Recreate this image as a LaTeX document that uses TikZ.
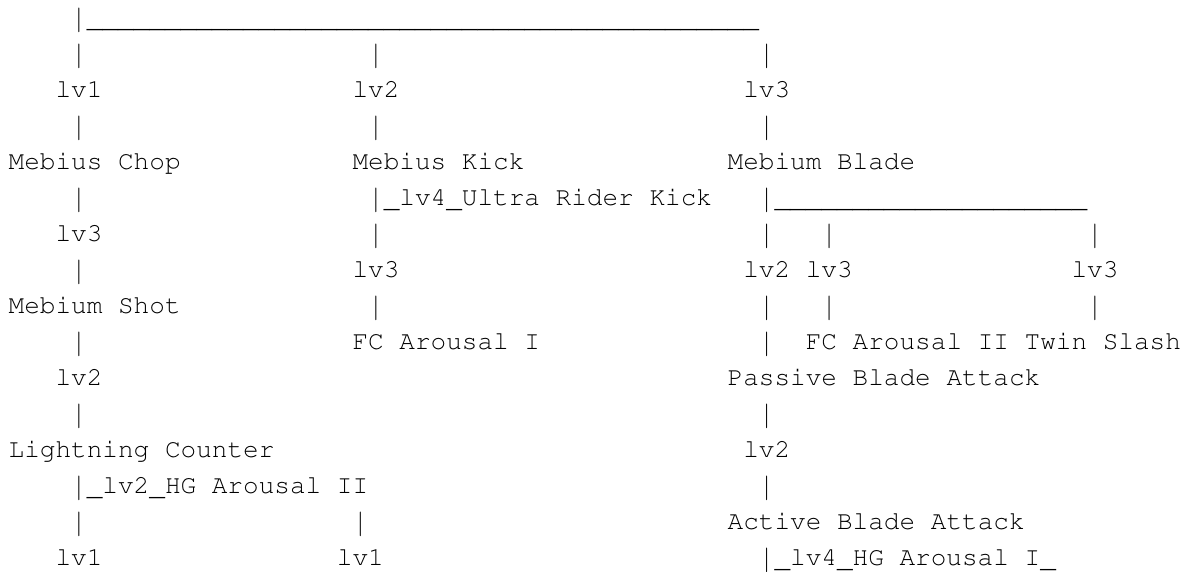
\documentclass[tikz,border=0pt]{standalone}
\usepackage[T1]{fontenc}
\usepackage{graphicx}
\newcommand\us{\raisebox{-2.5pt}{\_}}
\newcommand\pp{\raisebox{-3.5pt}{\scalebox{1}[1.3]{|}}}
\newcommand\tenus{\us\us\us\us\us\us\us\us\us\us}
\newcommand\gX{8.7}
\newcommand\gW{15.63}
\newcommand\gY{25}
\newcommand\gH{36}
\tikzset{
  asc/.style={anchor=base west, inner sep=0pt, outer sep=0pt, text=black,
    font=\fontencoding{T1}\fontfamily{pcr}\fontseries{m}\fontshape{n}\fontsize{26.05}{30}\selectfont},
}
\begin{document}
\begin{tikzpicture}[x=1pt,y=-1pt]
\fill[white] (0,0) rectangle (1184,571);
\useasboundingbox (0,0) rectangle (1184,571);
% row 0
\node[asc] (top) at ({\gX+4*\gW},{\gY+0*\gH}) {\pp\tenus\tenus\tenus\tenus\us\us\us};
% row 1
\node[asc] (p1a) at ({\gX+4*\gW},{\gY+1*\gH}) {\pp};
\node[asc] (p1b) at ({\gX+23*\gW},{\gY+1*\gH}) {\pp};
\node[asc] (p1c) at ({\gX+48*\gW},{\gY+1*\gH}) {\pp};
% row 2
\node[asc] (lvA) at ({\gX+3*\gW},{\gY+2*\gH}) {lv1};
\node[asc] (lvB) at ({\gX+22*\gW},{\gY+2*\gH}) {lv2};
\node[asc] (lvC) at ({\gX+47*\gW},{\gY+2*\gH}) {lv3};
% row 3
\node[asc] (p3a) at ({\gX+4*\gW},{\gY+3*\gH}) {\pp};
\node[asc] (p3b) at ({\gX+23*\gW},{\gY+3*\gH}) {\pp};
\node[asc] (p3c) at ({\gX+48*\gW},{\gY+3*\gH}) {\pp};
% row 4
\node[asc] (chop) at ({\gX+0*\gW},{\gY+4*\gH}) {Mebius Chop};
\node[asc] (kick) at ({\gX+22*\gW},{\gY+4*\gH}) {Mebius Kick};
\node[asc] (blade) at ({\gX+46*\gW},{\gY+4*\gH}) {Mebium Blade};
% row 5
\node[asc] (p5a) at ({\gX+4*\gW},{\gY+5*\gH}) {\pp};
\node[asc] (urk) at ({\gX+23*\gW},{\gY+5*\gH}) {\pp\us lv4\us Ultra Rider Kick};
\node[asc] (bar5) at ({\gX+48*\gW},{\gY+5*\gH}) {\pp\tenus\tenus};
% row 6
\node[asc] (lvD) at ({\gX+3*\gW},{\gY+6*\gH}) {lv3};
\node[asc] (p6b) at ({\gX+23*\gW},{\gY+6*\gH}) {\pp};
\node[asc] (p6c) at ({\gX+48*\gW},{\gY+6*\gH}) {\pp};
\node[asc] (p6d) at ({\gX+52*\gW},{\gY+6*\gH}) {\pp};
\node[asc] (p6e) at ({\gX+69*\gW},{\gY+6*\gH}) {\pp};
% row 7
\node[asc] (p7a) at ({\gX+4*\gW},{\gY+7*\gH}) {\pp};
\node[asc] (lvE) at ({\gX+22*\gW},{\gY+7*\gH}) {lv3};
\node[asc] (lvF) at ({\gX+47*\gW},{\gY+7*\gH}) {lv2};
\node[asc] (lvG) at ({\gX+51*\gW},{\gY+7*\gH}) {lv3};
\node[asc] (lvH) at ({\gX+68*\gW},{\gY+7*\gH}) {lv3};
% row 8
\node[asc] (shot) at ({\gX+0*\gW},{\gY+8*\gH}) {Mebium Shot};
\node[asc] (p8b) at ({\gX+23*\gW},{\gY+8*\gH}) {\pp};
\node[asc] (p8c) at ({\gX+48*\gW},{\gY+8*\gH}) {\pp};
\node[asc] (p8d) at ({\gX+52*\gW},{\gY+8*\gH}) {\pp};
\node[asc] (p8e) at ({\gX+69*\gW},{\gY+8*\gH}) {\pp};
% row 9
\node[asc] (p9a) at ({\gX+4*\gW},{\gY+9*\gH}) {\pp};
\node[asc] (fc1) at ({\gX+22*\gW},{\gY+9*\gH}) {FC Arousal I};
\node[asc] (p9c) at ({\gX+48*\gW},{\gY+9*\gH}) {\pp};
\node[asc] (fc2) at ({\gX+51*\gW},{\gY+9*\gH}) {FC Arousal II Twin Slash};
% row 10
\node[asc] (lvI) at ({\gX+3*\gW},{\gY+10*\gH}) {lv2};
\node[asc] (pba) at ({\gX+46*\gW},{\gY+10*\gH}) {Passive Blade Attack};
% row 11
\node[asc] (p11a) at ({\gX+4*\gW},{\gY+11*\gH}) {\pp};
\node[asc] (p11c) at ({\gX+48*\gW},{\gY+11*\gH}) {\pp};
% row 12
\node[asc] (lc) at ({\gX+0*\gW},{\gY+12*\gH}) {Lightning Counter};
\node[asc] (lvJ) at ({\gX+47*\gW},{\gY+12*\gH}) {lv2};
% row 13
\node[asc] (hg2) at ({\gX+4*\gW},{\gY+13*\gH}) {\pp\us lv2\us HG Arousal II};
\node[asc] (p13c) at ({\gX+48*\gW},{\gY+13*\gH}) {\pp};
% row 14
\node[asc] (p14a) at ({\gX+4*\gW},{\gY+14*\gH}) {\pp};
\node[asc] (p14b) at ({\gX+22*\gW},{\gY+14*\gH}) {\pp};
\node[asc] (aba) at ({\gX+46*\gW},{\gY+14*\gH}) {Active Blade Attack};
% row 15
\node[asc] (lvK) at ({\gX+3*\gW},{\gY+15*\gH}) {lv1};
\node[asc] (lvL) at ({\gX+21*\gW},{\gY+15*\gH}) {lv1};
\node[asc] (hg1) at ({\gX+48*\gW},{\gY+15*\gH}) {\pp\us lv4\us HG Arousal I\us};
\end{tikzpicture}
\end{document}
